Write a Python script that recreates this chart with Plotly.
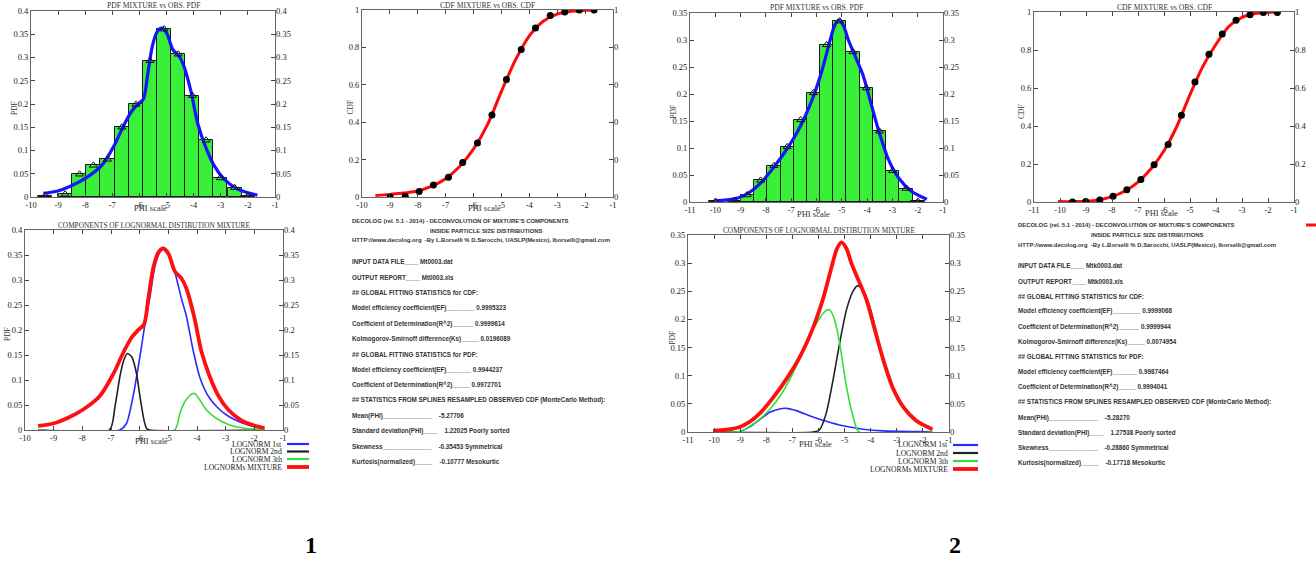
import plotly.graph_objects as go

W, H = 1316, 562

# ------------------------------------------------------------------ DATA
# axis ticks
phi_ticks_1 = [-10, -9, -8, -7, -6, -5, -4, -3, -2, -1]
phi_ticks_2 = [-11, -10, -9, -8, -7, -6, -5, -4, -3, -2, -1]
pdf_ticks_1 = [0, 0.05, 0.1, 0.15, 0.2, 0.25, 0.3, 0.35, 0.4]
pdf_ticks_2 = [0, 0.05, 0.1, 0.15, 0.2, 0.25, 0.3, 0.35]
cdf_ticks = [0, 0.2, 0.4, 0.6, 0.8, 1]
cdf_ticktext = ["0", "0.2", "0.4", "0.6", "0.8", "1"]
cdf_ticktext_clipped = ["0", "0", "0", "0", "0", "1"]

# ---- sample 1: observed PDF (histogram + triangles)
s1_obs_phi = [-9.48, -8.74, -8.21, -7.70, -7.18, -6.65, -6.13, -5.61, -5.09, -4.57, -4.05, -3.54, -3.02, -2.49, -2.00]
s1_obs_pdf = [0.003, 0.006, 0.049, 0.068, 0.081, 0.150, 0.199, 0.293, 0.361, 0.307, 0.218, 0.122, 0.041, 0.020, 0.002]
# ---- sample 1: fitted mixture PDF
s1_mix_phi = [-9.54, -9.01, -8.55, -7.97, -7.39, -6.92, -6.57, -6.28, -6.05, -5.85, -5.70, -5.53, -5.35, -5.18,
              -5.00, -4.77, -4.54, -4.37, -4.10, -3.85, -3.55, -3.25, -2.90, -2.45, -2.00, -1.65]
s1_mix_pdf = [0.008, 0.013, 0.023, 0.041, 0.068, 0.112, 0.155, 0.185, 0.200, 0.211, 0.262, 0.323, 0.355, 0.363,
              0.353, 0.317, 0.303, 0.283, 0.227, 0.158, 0.106, 0.068, 0.040, 0.019, 0.009, 0.004]
# ---- sample 1: CDF
s1_cdf_obs_phi = [-8.99, -8.45, -7.95, -7.44, -6.90, -6.39, -5.86, -5.34, -4.82, -4.29, -3.78, -3.25, -2.73, -2.21, -1.68]
s1_cdf_obs = [0.0, 0.004, 0.029, 0.064, 0.105, 0.184, 0.289, 0.439, 0.629, 0.789, 0.904, 0.970, 0.989, 1.0, 1.0]
s1_cdf_fit_phi = [-9.52, -9.0, -8.5, -8.0, -7.5, -7.0, -6.5, -6.0, -5.5, -5.0, -4.5, -4.0, -3.5, -3.0, -2.5, -2.0, -1.65]
s1_cdf_fit = [0.008, 0.014, 0.021, 0.032, 0.058, 0.098, 0.163, 0.257, 0.387, 0.565, 0.732, 0.862, 0.940, 0.978, 0.993, 0.998, 1.0]
# ---- sample 1: components
s1_c1_phi = [-9.54, -6.69, -6.46, -6.23, -5.99, -5.82, -5.64, -5.47, -5.30, -5.18, -5.00, -4.77, -4.54, -4.37,
             -4.13, -3.90, -3.61, -3.32, -2.97, -2.51, -2.04, -1.64]
s1_c1 = [0, 0, 0.013, 0.067, 0.147, 0.210, 0.267, 0.327, 0.355, 0.362, 0.350, 0.315, 0.262, 0.228,
         0.158, 0.105, 0.068, 0.047, 0.030, 0.016, 0.007, 0.003]
s1_c2_phi = [-9.54, -7.05, -6.86, -6.69, -6.55, -6.43, -6.28, -6.11, -5.99, -5.85, -5.76, -5.65, -1.64]
s1_c2 = [0, 0, 0.047, 0.107, 0.140, 0.153, 0.147, 0.113, 0.067, 0.020, 0.003, 0, 0]
s1_c3_phi = [-9.54, -4.78, -4.60, -4.42, -4.19, -4.08, -3.96, -3.67, -3.32, -2.86, -2.28, -1.64]
s1_c3 = [0, 0, 0.033, 0.057, 0.072, 0.073, 0.065, 0.040, 0.023, 0.010, 0.003, 0.001]

# ---- sample 2: observed PDF
s2_obs_phi = [-9.99, -9.22, -8.74, -8.21, -7.68, -7.16, -6.63, -6.12, -5.60, -5.08, -4.56, -4.03, -3.51, -2.99, -2.46, -1.99]
s2_obs_pdf = [0.001, 0.002, 0.013, 0.040, 0.067, 0.102, 0.152, 0.202, 0.291, 0.335, 0.278, 0.211, 0.131, 0.058, 0.025, 0.001]
# ---- sample 2: fitted mixture PDF
s2_mix_phi = [-10.04, -9.53, -9.02, -8.64, -8.25, -7.74, -7.23, -6.72, -6.21, -5.83, -5.51, -5.29, -5.12, -4.93,
              -4.74, -4.49, -4.17, -3.85, -3.53, -3.15, -2.76, -2.25, -1.64]
s2_mix_pdf = [0.002, 0.004, 0.009, 0.018, 0.033, 0.061, 0.094, 0.133, 0.185, 0.236, 0.291, 0.326, 0.337, 0.326,
              0.300, 0.272, 0.236, 0.183, 0.130, 0.078, 0.045, 0.020, 0.005]
# ---- sample 2: CDF
s2_cdf_obs_phi = [-9.52, -9.01, -8.47, -7.96, -7.43, -6.89, -6.38, -5.84, -5.33, -4.81, -4.27, -3.76, -3.23, -2.69, -2.18, -1.64]
s2_cdf_obs = [0.0, 0.002, 0.010, 0.030, 0.065, 0.118, 0.196, 0.302, 0.456, 0.632, 0.777, 0.884, 0.956, 0.986, 0.998, 0.998]
s2_cdf_fit_phi = [-10.08, -9.5, -9.0, -8.5, -8.0, -7.5, -7.0, -6.5, -6.0, -5.5, -5.0, -4.5, -4.0, -3.5, -3.0, -2.5, -2.0, -1.64]
s2_cdf_fit = [0.002, 0.002, 0.004, 0.011, 0.028, 0.058, 0.105, 0.175, 0.270, 0.400, 0.565, 0.715, 0.830, 0.925, 0.972, 0.992, 0.998, 0.999]
# ---- sample 2: components
s2_c1_phi = [-10.04, -9.02, -8.64, -8.25, -7.87, -7.49, -7.23, -6.85, -6.34, -5.70, -5.06, -4.29, -3.53, -2.25, -1.64]
s2_c1 = [0, 0.001, 0.009, 0.022, 0.035, 0.041, 0.042, 0.038, 0.029, 0.019, 0.011, 0.005, 0.002, 0.0006, 0.0003]
s2_c2_phi = [-10.04, -6.21, -5.96, -5.70, -5.44, -5.19, -4.93, -4.68, -4.49, -4.29, -4.04, -3.79, -3.53, -3.15, -2.76, -2.25, -1.64]
s2_c2 = [0, 0, 0.004, 0.034, 0.093, 0.158, 0.217, 0.250, 0.260, 0.252, 0.223, 0.179, 0.128, 0.075, 0.043, 0.019, 0.004]
s2_c3_phi = [-10.04, -9.02, -8.64, -8.25, -7.87, -7.36, -6.85, -6.34, -5.96, -5.70, -5.57, -5.38, -5.19, -4.93, -4.68, -4.45, -1.64]
s2_c3 = [0, 0.001, 0.010, 0.023, 0.040, 0.072, 0.117, 0.170, 0.202, 0.216, 0.217, 0.199, 0.158, 0.081, 0.028, 0.0, 0]

# ---- report texts
s1_header = ["DECOLOG (rel. 5.1 - 2014) - DECONVOLUTION OF MIXTURE'S COMPONENTS",
             "INSIDE PARTICLE SIZE DISTRIBUTIONS",
             "HTTP://www.decolog.org  -By L.Borselli % D.Sarocchi, UASLP(Mexico), lborselli@gmail.com"]
s1_report = ["INPUT DATA FILE____ Mt0003.dat",
             "OUTPUT REPORT____ Mt0003.xls",
             "## GLOBAL FITTING STATISTICS for CDF:",
             "Model efficiency coefficient(EF)________ 0.9995323",
             "Coefficient of Determination(R^2)______ 0.9999614",
             "Kolmogorov-Smirnoff difference(Ks)_____ 0.0196089",
             "## GLOBAL FITTING STATISTICS for PDF:",
             "Model efficiency coefficient(EF)_______ 0.9944237",
             "Coefficient of Determination(R^2)_____ 0.9972701",
             "## STATISTICS FROM SPLINES RESAMPLED OBSERVED CDF (MonteCarlo Method):",
             "Mean(PHI)______________    -5.27706",
             "Standard deviation(PHI)____    1.22025 Poorly sorted",
             "Skewness______________    -0.35453 Symmetrical",
             "Kurtosis(normalized)_____    -0.10777 Mesokurtic"]
s2_header = ["DECOLOG (rel. 5.1 - 2014) - DECONVOLUTION OF MIXTURE'S COMPONENTS",
             "INSIDE PARTICLE SIZE DISTRIBUTIONS",
             "HTTP://www.decolog.org  -By L.Borselli % D.Sarocchi, UASLP(Mexico), lborselli@gmail.com"]
s2_report = ["INPUT DATA FILE____ Mtk0003.dat",
             "OUTPUT REPORT____ Mtk0003.xls",
             "## GLOBAL FITTING STATISTICS for CDF:",
             "Model efficiency coefficient(EF)________ 0.9999068",
             "Coefficient of Determination(R^2)______ 0.9999944",
             "Kolmogorov-Smirnoff difference(Ks)_____ 0.0074954",
             "## GLOBAL FITTING STATISTICS for PDF:",
             "Model efficiency coefficient(EF)_______ 0.9987464",
             "Coefficient of Determination(R^2)_____ 0.9994041",
             "## STATISTICS FROM SPLINES RESAMPLED OBSERVED CDF (MonteCarlo Method):",
             "Mean(PHI)______________    -5.28270",
             "Standard deviation(PHI)____    1.27538 Poorly sorted",
             "Skewness______________    -0.28860 Symmetrical",
             "Kurtosis(normalized)_____    -0.17718 Mesokurtic"]

legend_names = ["LOGNORM 1st", "LOGNORM 2nd", "LOGNORM 3th", "LOGNORMs MIXTURE"]
legend_colors = ["#2a2aff", "#222222", "#33e033", "#ff1010"]
legend_widths = [1.6, 1.6, 1.6, 3.2]

# ------------------------------------------------------------------ LAYOUT HELPERS
SERIF = "Liberation Serif, DejaVu Serif, serif"
REPORT_FONT = "Liberation Sans Narrow, Liberation Sans, Arial, sans-serif"


def px(x):
    return x / W


def py(y):
    return 1 - y / H


def ref(letter, n):
    return letter if n == 1 else f"{letter}{n}"


def key(letter, n):
    return f"{letter}axis" if n == 1 else f"{letter}axis{n}"


fig = go.Figure()
layout = {}
annotations = []
shapes = []

AXFONT = dict(family=SERIF, size=8.5, color="#222")


def make_panel(n, box, xr, xt, yr, yt, ytt_left, ytt_right, title, title_size, ytitle, title_y, xlabel_y, ytitle_x):
    x0, x1, y0, y1 = box
    layout[key("x", n)] = dict(domain=[px(x0), px(x1)], anchor=ref("y", n), range=xr,
                               tickvals=xt, ticktext=[str(v) for v in xt],
                               ticks="inside", ticklen=4, tickcolor="#444", mirror="ticks",
                               showline=True, linecolor="#666", linewidth=1, showgrid=False,
                               zeroline=False, tickfont=AXFONT, fixedrange=True, automargin=False)
    layout[key("y", n)] = dict(domain=[py(y1), py(y0)], anchor=ref("x", n), range=yr,
                               tickvals=yt, ticktext=ytt_left,
                               ticks="inside", ticklen=4, tickcolor="#444", mirror="ticks",
                               showline=True, linecolor="#666", linewidth=1, showgrid=False,
                               zeroline=False, tickfont=AXFONT, fixedrange=True, automargin=False)
    layout[key("y", n + 6)] = dict(overlaying=ref("y", n), side="right", anchor=ref("x", n),
                                   range=yr, tickvals=yt, ticktext=ytt_right, ticks="",
                                   showline=False, showgrid=False, zeroline=False,
                                   tickfont=AXFONT, fixedrange=True, automargin=False)
    cx = (x0 + x1) / 2
    annotations.append(dict(text=title, x=px(cx), y=py(title_y), xref="paper", yref="paper",
                            showarrow=False, xanchor="center", yanchor="middle",
                            font=dict(family=SERIF, size=title_size, color="#333")))
    annotations.append(dict(text="PHI scale", x=px(cx - 3), y=py(xlabel_y), xref="paper", yref="paper",
                            showarrow=False, xanchor="center", yanchor="middle",
                            font=dict(family=SERIF, size=8.5, color="#333")))
    annotations.append(dict(text=ytitle, x=px(ytitle_x), y=py((y0 + y1) / 2 + 4), xref="paper", yref="paper",
                            showarrow=False, xanchor="center", yanchor="middle", textangle=-90,
                            font=dict(family=SERIF, size=7.5, color="#333")))


pdf_tt_1 = [f"{v:g}" for v in pdf_ticks_1]
pdf_tt_2 = [f"{v:g}" for v in pdf_ticks_2]

make_panel(1, (31, 275, 11, 197), [-10, -1], phi_ticks_1, [0, 0.4], pdf_ticks_1, pdf_tt_1, pdf_tt_1,
           "PDF MIXTURE vs OBS. PDF", 7.6, "PDF", 5, 208, 14)
make_panel(2, (362, 613, 10, 197), [-10, -1], phi_ticks_1, [0, 1], cdf_ticks, cdf_ticktext, cdf_ticktext_clipped,
           "CDF MIXTURE vs OBS. CDF", 7.6, "CDF", 5, 208, 350)
make_panel(3, (25, 283, 230, 430), [-10, -1], phi_ticks_1, [0, 0.4], pdf_ticks_1, pdf_tt_1, pdf_tt_1,
           "COMPONENTS OF LOGNORMAL DISTIBUTION MIXTURE", 7.3, "PDF", 225, 441, 7)
make_panel(4, (690, 943, 13, 202), [-11, -1], phi_ticks_2, [0, 0.35], pdf_ticks_2, pdf_tt_2, pdf_tt_2,
           "PDF MIXTURE vs OBS. PDF", 7.6, "PDF", 8, 214, 673)
make_panel(5, (1034, 1294, 12, 202), [-11, -1], phi_ticks_2, [0, 1], cdf_ticks, cdf_ticktext, cdf_ticktext,
           "CDF MIXTURE vs OBS. CDF", 7.6, "CDF", 7, 213, 1022)
make_panel(6, (688, 949, 235, 432), [-11, -1], phi_ticks_2, [0, 0.35], pdf_ticks_2, pdf_tt_2, pdf_tt_2,
           "COMPONENTS OF LOGNORMAL DISTIBUTION MIXTURE", 7.3, "PDF", 230, 444, 672)

# ------------------------------------------------------------------ TRACES
BAR_GREEN = "#39f039"


def pdf_panel(n, obs_phi, obs_pdf, mix_phi, mix_pdf):
    fig.add_trace(go.Bar(x=obs_phi, y=obs_pdf, width=0.52, marker=dict(color=BAR_GREEN,
                         line=dict(color="#1a1a1a", width=1)), xaxis=ref("x", n), yaxis=ref("y", n)))
    fig.add_trace(go.Scatter(x=mix_phi, y=mix_pdf, mode="lines", line=dict(color="#1414ff", width=3.2,
                             shape="spline", smoothing=0.8), xaxis=ref("x", n), yaxis=ref("y", n)))
    fig.add_trace(go.Scatter(x=obs_phi, y=obs_pdf, mode="markers",
                             marker=dict(symbol="triangle-up-open", size=7, color="#111", line=dict(width=1)),
                             xaxis=ref("x", n), yaxis=ref("y", n + 6)))


def cdf_panel(n, fit_phi, fit, obs_phi, obs):
    fig.add_trace(go.Scatter(x=fit_phi, y=fit, mode="lines", line=dict(color="#ff0a0a", width=3,
                             shape="spline", smoothing=0.8), xaxis=ref("x", n), yaxis=ref("y", n)))
    fig.add_trace(go.Scatter(x=obs_phi, y=obs, mode="markers", marker=dict(size=7, color="#000"),
                             xaxis=ref("x", n), yaxis=ref("y", n + 6)))


def comp_panel(n, comps, mix_phi, mix_pdf):
    for (cphi, cval), col, lw in zip(comps, legend_colors[:3], legend_widths[:3]):
        fig.add_trace(go.Scatter(x=cphi, y=cval, mode="lines", line=dict(color=col, width=lw,
                                 shape="spline", smoothing=0.6), xaxis=ref("x", n), yaxis=ref("y", n)))
    fig.add_trace(go.Scatter(x=mix_phi, y=mix_pdf, mode="lines", line=dict(color=legend_colors[3],
                             width=legend_widths[3] + 0.6, shape="spline", smoothing=0.8),
                             xaxis=ref("x", n), yaxis=ref("y", n + 6)))


pdf_panel(1, s1_obs_phi, s1_obs_pdf, s1_mix_phi, s1_mix_pdf)
cdf_panel(2, s1_cdf_fit_phi, s1_cdf_fit, s1_cdf_obs_phi, s1_cdf_obs)
comp_panel(3, [(s1_c1_phi, s1_c1), (s1_c2_phi, s1_c2), (s1_c3_phi, s1_c3)], s1_mix_phi, s1_mix_pdf)
pdf_panel(4, s2_obs_phi, s2_obs_pdf, s2_mix_phi, s2_mix_pdf)
cdf_panel(5, s2_cdf_fit_phi, s2_cdf_fit, s2_cdf_obs_phi, s2_cdf_obs)
comp_panel(6, [(s2_c1_phi, s2_c1), (s2_c2_phi, s2_c2), (s2_c3_phi, s2_c3)], s2_mix_phi, s2_mix_pdf)

# ------------------------------------------------------------------ LEGENDS (component panels)


def legend(text_right, line_x0, line_x1, ys):
    for name, col, lw, y in zip(legend_names, legend_colors, legend_widths, ys):
        annotations.append(dict(text=name, x=px(text_right), y=py(y), xref="paper", yref="paper",
                                showarrow=False, xanchor="right", yanchor="middle",
                                font=dict(family=SERIF, size=7.6, color="#222")))
        shapes.append(dict(type="line", xref="paper", yref="paper", x0=px(line_x0), x1=px(line_x1),
                           y0=py(y), y1=py(y), line=dict(color=col, width=lw + 0.6)))


legend(284, 287, 309, [444, 451.5, 459, 467])
legend(950, 953, 978, [445, 453, 461, 469])

# cut-off legend line at the right edge
shapes.append(dict(type="line", xref="paper", yref="paper", x0=px(1306), x1=px(1316), y0=py(225), y1=py(225),
                   line=dict(color="#ff1010", width=3)))

# ------------------------------------------------------------------ REPORT TEXT


def report(header, body, x_left, x_center, header_ys, body_y0, body_step):
    for i, (line, y) in enumerate(zip(header, header_ys)):
        annotations.append(dict(text=f"<b>{line}</b>", x=px(x_center if i == 1 else x_left), y=py(y),
                                xref="paper", yref="paper", showarrow=False,
                                xanchor="center" if i == 1 else "left", yanchor="middle",
                                font=dict(family=REPORT_FONT, size=5.9, color="#333")))
    for i, line in enumerate(body):
        annotations.append(dict(text=f"<b>{line}</b>", x=px(x_left), y=py(body_y0 + i * body_step),
                                xref="paper", yref="paper", showarrow=False, xanchor="left", yanchor="middle",
                                font=dict(family=REPORT_FONT, size=6.3, color="#333")))


report(s1_header, s1_report, 350, 487, [221, 230.5, 240], 262, 15.38)
report(s2_header, s2_report, 1016, 1147, [225, 235, 245], 266, 15.15)

# big sample numbers
for lab, xx in (("1", 311), ("2", 955)):
    annotations.append(dict(text=f"<b>{lab}</b>", x=px(xx), y=py(545), xref="paper", yref="paper",
                            showarrow=False, xanchor="center", yanchor="middle",
                            font=dict(family=SERIF, size=24, color="#000")))

fig.update_layout(**layout)
fig.update_layout(width=W, height=H, margin=dict(l=0, r=0, t=0, b=0, pad=0, autoexpand=False),
                  paper_bgcolor="white", plot_bgcolor="white", showlegend=False,
                  annotations=annotations, shapes=shapes, bargap=0)
fig.write_html("out.html", config={"displayModeBar": False},
               post_script="document.body.style.margin='0px';document.body.style.padding='0px';")
